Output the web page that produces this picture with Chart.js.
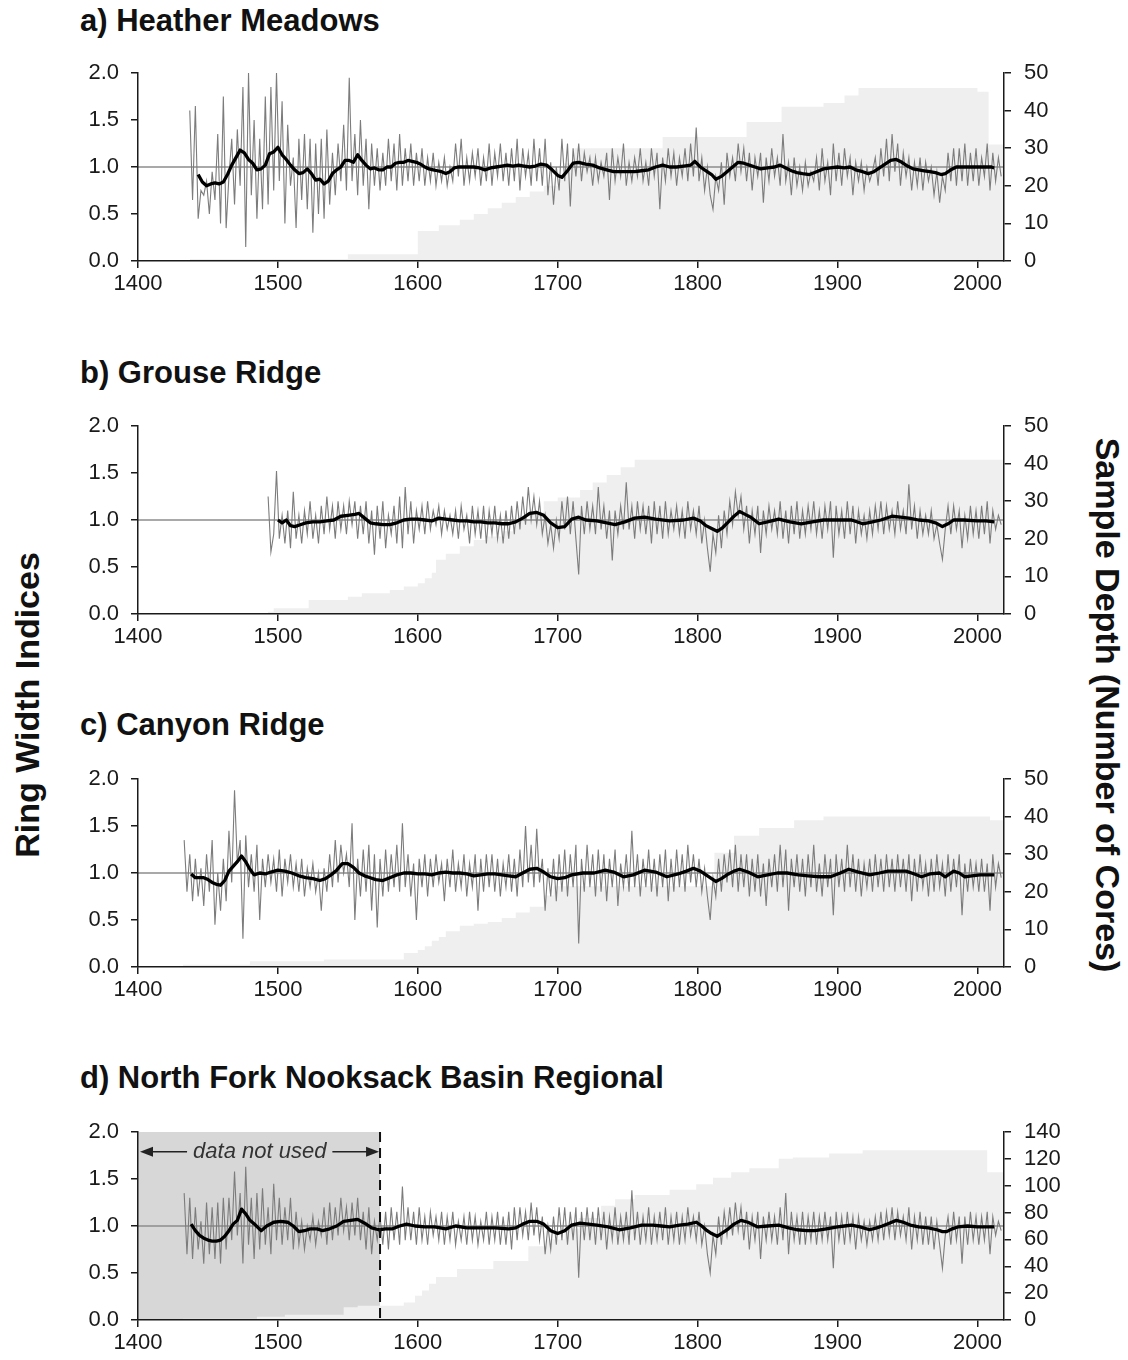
<!DOCTYPE html>
<html><head><meta charset="utf-8">
<script src="https://cdn.jsdelivr.net/npm/chart.js@4.4.1/dist/chart.umd.min.js"></script>
<style>
body{margin:0;background:#fff;width:1128px;height:1360px;position:relative;overflow:hidden;font-family:"Liberation Sans",Arial,sans-serif;}
.title{position:absolute;left:80px;font-weight:bold;font-size:31px;color:#111;line-height:31px;white-space:nowrap;}
canvas{position:absolute;left:0;}
.side{position:absolute;font-weight:bold;font-size:34px;color:#111;white-space:nowrap;line-height:34px;}
</style></head><body>
<div class="title" style="top:5px">a) Heather Meadows</div>
<div class="title" style="top:357px">b) Grouse Ridge</div>
<div class="title" style="top:709px">c) Canyon Ridge</div>
<div class="title" style="top:1062px">d) North Fork Nooksack Basin Regional</div>
<div class="side" style="left:27px;top:705px;transform:translate(-50%,-50%) rotate(-90deg)">Ring Width Indices</div>
<div class="side" style="left:1108px;top:705px;transform:translate(-50%,-50%) rotate(90deg)">Sample Depth (Number of Cores)</div>
<canvas id="ca" width="1128" height="261" style="top:45px"></canvas>
<canvas id="cb" width="1128" height="261" style="top:398px"></canvas>
<canvas id="cc" width="1128" height="261" style="top:751px"></canvas>
<canvas id="cd" width="1128" height="261" style="top:1104px"></canvas>
<script>
// ---- tick labels ----
const xTicks = [1400,1500,1600,1700,1800,1900,2000];
const leftTicks = [0,0.5,1,1.5,2];
const rightTicksSite = [0,10,20,30,40,50];
const rightTicksRegional = [0,20,40,60,80,100,120,140];
const xRange = [1400,2019];
const notUsedRange = [1400,1573];
const notUsedLabel = 'data not used';

// ---- a) Heather Meadows ----
const annualStartA = 1437, annualStepA = 2;
const annualA = [
1.6,0.65,1.65,0.45,0.75, 0.7,0.85,0.5,0.95,0.65, 1.35,0.4,1.75,0.35,0.9, 1.3,0.6,1.4,0.8,1.85,
0.15,2.0,0.7,1.5,0.45, 1.3,0.55,1.75,0.6,1.85, 0.75,2.0,0.85,1.7,0.4, 1.45,0.8,1.1,0.35,1.3,
0.65,1.35,0.55,1.3,0.3, 1.25,0.5,1.3,0.45,1.4, 0.6,1.15,0.7,1.25,0.85, 1.45,0.75,1.95,0.85,1.35,
0.7,1.5,0.8,1.3,0.55, 1.25,0.8,1.2,0.75,1.15, 0.8,1.3,0.85,1.25,0.75, 1.35,0.8,1.2,0.85,1.25,
0.8,1.15,0.85,1.2,0.8, 1.1,0.85,1.15,0.8,1.05, 0.85,1.1,0.8,1.0,0.85, 1.25,0.9,1.3,0.8,1.1,
0.85,1.15,0.9,1.2,0.8, 1.1,0.85,1.25,0.8,1.15, 0.9,1.25,0.85,1.15,0.8, 1.2,0.85,1.3,0.75,1.2,
0.9,1.15,0.8,1.3,0.85, 1.2,0.8,1.3,0.7,1.05, 0.6,1.0,0.75,1.3,0.85, 1.25,0.58,1.2,0.9,1.25,
0.85,1.15,0.95,1.1,0.8, 1.1,0.85,1.05,0.9,1.15, 0.65,1.2,0.85,1.1,0.9, 1.25,0.8,1.05,0.85,1.1,
0.9,1.2,0.85,1.05,0.8, 1.2,0.9,1.15,0.55,1.1, 0.85,1.2,0.9,1.15,0.8, 1.1,0.9,1.2,0.85,1.25,
0.9,1.42,0.85,1.1,0.75, 1.0,0.7,0.55,0.9,0.75, 1.05,0.6,1.15,0.9,1.1, 0.85,1.25,0.95,1.2,0.85,
1.15,0.75,1.1,0.9,1.15, 0.62,1.1,0.85,1.2,0.9, 1.1,0.8,1.35,0.85,1.05, 0.7,1.1,0.8,1.0,0.75,
1.05,0.8,0.95,0.85,1.1, 0.75,1.2,0.85,1.05,0.7, 1.25,0.85,1.15,0.8,1.2, 0.9,1.1,0.7,1.05,0.85,
1.05,0.75,1.0,0.85,0.95, 1.1,0.8,1.2,0.9,1.3, 0.85,1.35,0.95,1.25,0.8, 1.15,0.9,1.1,0.75,1.05,
0.8,1.1,0.75,1.05,0.85, 1.0,0.7,0.95,0.62,0.9, 0.75,1.15,0.85,1.2,0.8, 1.2,0.85,1.25,0.8,1.15,
0.85,1.2,0.8,1.1,0.9, 1.25,0.75,1.15,0.85,1.1, 0.9];
const smoothYearsA = [
1443,1446,1449,1452,1455,1458,1461,1464,1467,1470,1473,1476,1479,1482,1485,1488,1491,1494,1497,1500,
1503,1506,1509,1512,1515,1518,1521,1524,1527,1530,1533,1536,1539,1542,1545,1548,1551,1554,1557,1560,
1563,1566,1569,1572,1575,1578,1581,1584,1587,1590,1593,1596,1599,1602,1605,1608,1611,1614,1617,1620,
1623,1626,1629,1632,1636,1640,1644,1648,1652,1656,1660,1664,1668,1672,1676,1680,1684,1688,1692,1696,
1700,1703,1707,1711,1715,1720,1725,1730,1735,1740,1745,1750,1755,1760,1765,1770,1775,1780,1785,1790,
1795,1798,1802,1806,1810,1813,1817,1821,1825,1829,1833,1837,1841,1845,1850,1855,1859,1863,1867,1871,
1875,1880,1885,1890,1895,1900,1905,1909,1913,1918,1922,1926,1930,1934,1938,1942,1946,1950,1954,1958,
1962,1966,1970,1974,1977,1981,1985,1990,1995,2000,2005,2010,2012];
const smoothA = [
0.92,0.84,0.80,0.82,0.83,0.82,0.84,0.92,1.02,1.10,1.18,1.15,1.08,1.04,0.97,0.98,1.02,1.14,1.16,1.21,
1.13,1.08,1.02,0.97,0.93,0.94,0.98,0.93,0.86,0.87,0.82,0.85,0.93,0.97,1.00,1.07,1.07,1.05,1.13,1.07,
1.02,0.98,0.99,0.97,0.97,1.00,1.00,1.04,1.05,1.05,1.07,1.06,1.05,1.03,1.00,0.98,0.97,0.96,0.95,0.93,
0.95,0.99,1.00,1.00,1.00,1.00,0.99,0.97,0.99,1.00,1.01,1.02,1.01,1.02,1.01,1.00,1.01,1.03,1.02,0.97,
0.91,0.89,0.96,1.04,1.05,1.03,1.02,0.99,0.97,0.95,0.95,0.95,0.95,0.96,0.97,1.00,1.02,1.00,1.00,1.01,
1.02,1.06,1.00,0.96,0.92,0.87,0.90,0.95,1.00,1.05,1.04,1.02,1.00,0.98,0.99,1.00,1.02,0.99,0.96,0.94,
0.93,0.92,0.95,0.98,0.99,1.00,0.99,1.00,0.97,0.95,0.93,0.95,0.99,1.03,1.07,1.08,1.05,1.01,0.98,0.97,
0.96,0.95,0.94,0.92,0.93,0.97,1.00,1.00,1.00,1.00,1.00,1.00,0.99];
const depthYearsA = [1437,1550,1600,1615,1630,1640,1650,1660,1670,1680,1690,1700,1705,1712,1775,1835,1860,1890,1905,1915,2000,2008,2019];
const depthA = [0.5,1.8,8,9.5,11,12.5,14,15.5,17,18.5,20,22,26,30,33,37,41,42,44,46,45,31,31];

// ---- b) Grouse Ridge ----
const annualStartB = 1493, annualStepB = 2;
const annualB = [
1.25,0.66,0.85,1.52,0.8, 1.05,0.75,1.1,0.7,1.3, 0.8,1.05,0.75,1.1,0.85, 1.2,0.8,1.05,0.75,1.15,
0.85,1.25,0.9,1.15,0.8, 1.2,0.9,1.15,0.85,1.2, 0.95,1.2,0.8,1.15,0.85, 1.2,0.75,1.1,0.63,1.15,
0.8,1.2,0.7,1.05,0.85, 1.15,0.75,1.25,0.7,1.35, 0.85,1.2,0.75,1.1,0.9, 1.15,0.85,1.2,0.9,1.1,
0.95,1.15,0.85,1.1,0.9, 1.05,0.85,1.1,0.8,1.15, 0.9,1.05,0.75,1.15,0.85, 1.1,0.8,1.15,0.75,1.1,
0.85,1.15,0.8,1.05,0.75, 1.1,0.8,1.15,0.85,1.2, 0.9,1.25,0.95,1.35,1.0, 1.25,0.95,1.2,0.85,1.05,
0.75,0.95,0.7,1.0,0.8, 1.2,0.9,1.25,0.85,1.2, 0.8,0.42,1.15,0.85,1.2, 0.9,1.15,0.85,1.35,0.9,
1.15,0.8,1.1,0.57,1.1, 0.85,1.15,0.9,1.4,0.9, 1.15,0.8,1.2,0.9,1.15, 0.85,1.15,0.75,1.2,0.85,
1.15,0.8,1.2,0.85,1.1, 0.9,1.15,0.85,1.1,0.8, 1.2,0.9,1.1,0.85,1.15, 0.75,1.0,0.7,0.45,0.85,
0.65,1.05,0.7,1.1,0.85, 1.2,0.95,1.3,1.05,1.25, 0.9,1.15,0.75,1.1,0.85, 1.15,0.65,1.1,0.85,1.15,
0.9,1.1,0.85,1.2,0.8, 1.1,0.75,1.15,0.85,1.2, 0.8,1.1,0.85,1.15,0.9, 1.2,0.85,1.1,0.8,1.15,
0.9,1.2,0.6,1.15,0.85, 1.1,0.8,1.2,0.85,1.15, 0.75,1.1,0.85,1.05,0.8, 1.1,0.85,1.15,0.9,1.2,
0.85,1.15,0.9,1.1,0.85, 1.2,0.9,1.1,0.85,1.38, 0.9,1.15,0.8,1.1,0.85, 1.05,0.85,1.1,0.8,0.95,
0.75,0.58,0.9,1.15,0.85, 1.15,0.9,1.1,0.7,1.05, 0.8,1.15,0.85,1.1,0.8, 1.15,0.85,1.2,0.75,1.1,
0.9,1.05,0.95];
const smoothYearsB = [
1500,1503,1506,1509,1512,1516,1520,1525,1530,1535,1540,1545,1550,1555,1558,1562,1566,1570,1575,1580,
1585,1590,1595,1600,1605,1610,1615,1620,1625,1630,1635,1640,1645,1650,1655,1660,1665,1670,1675,1680,
1685,1690,1695,1700,1705,1710,1715,1720,1728,1735,1741,1748,1755,1762,1770,1780,1790,1797,1802,1806,
1810,1814,1818,1822,1826,1830,1834,1838,1844,1850,1858,1866,1874,1882,1890,1900,1910,1918,1925,1931,
1939,1945,1951,1958,1965,1970,1975,1979,1983,1990,2000,2006,2012];
const smoothB = [
1.00,0.97,1.00,0.94,0.93,0.95,0.97,0.98,0.98,0.99,1.00,1.04,1.05,1.06,1.07,1.02,0.97,0.96,0.95,0.95,
0.97,1.00,1.01,1.01,1.00,0.99,1.02,1.01,1.00,0.99,0.99,0.98,0.98,0.97,0.97,0.96,0.96,0.98,1.02,1.07,
1.08,1.05,0.97,0.92,0.93,1.01,1.03,1.00,0.99,0.97,0.95,0.98,1.02,1.03,1.01,0.99,1.00,1.02,0.99,0.94,
0.91,0.88,0.92,0.98,1.04,1.09,1.06,1.03,0.96,0.98,1.01,0.98,0.96,0.98,1.00,1.00,1.00,0.96,0.98,1.00,
1.04,1.03,1.02,1.00,0.99,0.97,0.93,0.96,1.00,1.00,0.99,0.99,0.98];
const depthYearsB = [1493,1497,1522,1550,1560,1580,1590,1600,1605,1610,1613,1620,1630,1640,1650,1660,1670,1680,1690,1700,1716,1725,1735,1745,1755,2019];
const depthB = [0.6,1.5,3.7,4.6,5.5,6.4,7.3,8.2,9.5,11,14.4,16,18,19.7,20.6,22,25,27,30,31,33,35,37,39,41,41];

// ---- c) Canyon Ridge ----
const annualStartC = 1433, annualStepC = 2;
const annualC = [
1.35,0.8,1.2,0.7,1.15, 0.75,1.05,0.65,1.2,0.8, 1.35,0.45,1.0,0.6,1.15, 0.7,1.45,0.9,1.88,1.1,
1.35,0.3,1.4,0.85,1.2, 0.8,1.3,0.5,1.15,0.85, 1.2,0.9,1.15,0.8,1.25, 0.75,1.15,0.9,1.2,0.85,
1.1,0.8,1.15,0.75,1.05, 0.85,1.1,0.8,1.0,0.6, 1.05,0.8,1.2,0.85,1.35, 0.9,1.3,1.0,1.2,0.85,
1.53,0.5,1.15,0.75,1.25, 0.8,1.3,0.6,1.2,0.42, 1.15,0.75,1.25,0.8,1.2, 0.85,1.3,0.8,1.53,0.85,
1.2,0.75,1.1,0.5,1.15, 0.85,1.2,0.75,1.15,0.85, 1.2,0.9,1.1,0.7,1.15, 0.85,1.25,0.8,1.1,0.85,
1.2,0.75,1.1,0.85,1.2, 0.6,1.15,0.8,1.2,0.85, 1.2,0.8,1.15,0.75,1.1, 0.85,1.2,0.8,1.15,0.75,
1.25,0.85,1.5,0.9,1.3, 0.85,1.47,0.9,1.15,0.6, 1.05,0.75,1.15,0.7,1.2, 0.8,1.25,0.75,1.2,0.85,
1.3,0.25,1.15,0.8,1.3, 0.85,1.2,0.75,1.25,0.8, 1.2,0.7,1.15,0.85,1.25, 0.65,1.1,0.85,1.2,0.8,
1.45,0.85,1.2,0.75,1.15, 0.85,1.25,0.8,1.15,0.75, 1.2,0.85,1.25,0.7,1.15, 0.8,1.25,0.85,1.2,0.8,
1.3,0.9,1.2,0.85,1.15, 0.8,1.05,0.75,0.5,0.95, 0.75,1.15,0.8,1.2,0.9, 1.25,0.85,1.3,0.8,1.2,
0.85,1.2,0.75,1.15,0.8, 1.2,0.75,1.1,0.65,1.15, 0.85,1.2,0.8,1.3,0.85, 1.25,0.6,1.15,0.85,1.2,
0.8,1.15,0.75,1.2,0.85, 1.3,0.8,1.1,0.75,1.2, 0.85,1.15,0.55,1.2,0.85, 1.15,0.8,1.3,0.85,1.2,
0.8,1.15,0.75,1.1,0.85, 1.15,0.8,1.2,0.85,1.15, 0.8,1.2,0.85,1.15,0.8, 1.2,0.85,1.15,0.8,1.2,
0.7,1.15,0.8,1.2,0.85, 1.1,0.75,1.15,0.8,1.2, 0.85,1.1,0.75,1.2,0.8, 1.15,0.85,1.2,0.55,1.1,
0.8,1.15,0.85,1.1,0.8, 1.15,0.8,1.1,0.6,1.2, 0.85,1.1,0.95];
const smoothYearsC = [
1438,1441,1444,1447,1450,1453,1456,1459,1462,1465,1468,1471,1474,1477,1480,1483,1487,1491,1495,1500,
1505,1510,1515,1520,1525,1530,1534,1538,1542,1546,1550,1554,1558,1562,1566,1570,1575,1580,1585,1590,
1595,1600,1605,1610,1615,1620,1625,1630,1635,1640,1645,1650,1655,1660,1665,1670,1675,1680,1685,1690,
1695,1700,1705,1710,1718,1726,1734,1740,1747,1754,1762,1770,1778,1786,1792,1797,1802,1806,1810,1813,
1817,1822,1826,1830,1836,1843,1850,1857,1864,1872,1879,1887,1895,1902,1908,1915,1923,1930,1936,1943,
1949,1955,1960,1966,1973,1977,1983,1987,1991,1996,2002,2007,2012];
const smoothC = [
0.99,0.95,0.95,0.95,0.93,0.90,0.88,0.87,0.92,1.02,1.07,1.12,1.18,1.12,1.04,0.98,1.00,0.99,1.01,1.03,
1.02,1.00,0.97,0.95,0.94,0.92,0.94,0.98,1.03,1.10,1.10,1.06,1.00,0.97,0.95,0.93,0.92,0.95,0.98,1.00,
1.00,0.99,0.99,0.98,1.00,1.01,1.00,1.00,0.99,0.97,0.98,0.99,0.99,0.98,0.97,0.96,1.00,1.04,1.05,1.01,
0.96,0.94,0.95,0.98,1.00,1.00,1.03,1.01,0.96,0.98,1.03,1.01,0.96,0.99,1.02,1.05,1.02,0.98,0.94,0.91,
0.94,0.99,1.02,1.04,1.01,0.96,0.98,1.00,1.00,0.98,0.97,0.96,0.96,1.00,1.04,1.01,0.98,1.00,1.02,1.02,
1.02,0.99,0.96,0.99,1.00,0.96,1.02,1.00,0.96,0.97,0.98,0.98,0.98];
const depthYearsC = [1432,1480,1533,1590,1600,1605,1610,1615,1620,1630,1640,1650,1660,1670,1680,1690,1697,1812,1826,1844,1869,1890,2009,2019];
const depthC = [0.6,1.5,2.0,3.7,4.5,5.5,7,8,9.5,11,11.5,12,13,14.5,16,19,21.5,30.4,34.9,37,39,40,39,39];

// ---- d) North Fork Nooksack Basin Regional ----
const annualStartD = 1433, annualStepD = 2;
const annualD = [
1.35,0.7,1.3,0.65,1.2, 0.75,1.05,0.6,1.25,0.7, 1.2,0.65,1.25,0.6,1.3, 0.75,1.3,0.85,1.58,0.9,
1.35,0.6,1.63,0.8,1.3, 0.65,1.35,0.75,1.4,0.8, 1.2,0.7,1.45,0.85,1.3, 0.8,1.2,0.85,1.3,0.75,
1.15,0.8,1.05,0.75,1.0, 0.85,1.1,0.8,1.05,0.9, 1.2,0.8,1.25,0.85,1.2, 0.9,1.3,0.95,1.2,0.85,
1.25,0.9,1.3,0.85,1.15, 0.75,1.2,0.7,1.05,0.85, 1.1,0.8,1.15,0.75,1.2, 0.85,1.15,0.8,1.42,0.85,
1.2,0.85,1.15,0.8,1.2, 0.85,1.1,0.8,1.15,0.9, 1.1,0.85,1.15,0.8,1.1, 0.85,1.15,0.8,1.05,0.85,
1.1,0.8,1.15,0.85,1.1, 0.8,1.05,0.85,1.15,0.8, 1.1,0.85,1.15,0.8,1.1, 0.8,1.15,0.75,1.2,0.85,
1.2,0.9,1.15,0.85,1.25, 0.9,1.2,0.85,1.1,0.7, 1.0,0.75,1.1,0.8,1.2, 0.85,1.2,0.8,1.15,0.85,
1.2,0.45,1.15,0.85,1.2, 0.85,1.15,0.8,1.2,0.85, 1.15,0.75,1.1,0.85,1.2, 0.8,1.1,0.85,1.15,0.8,
1.38,0.85,1.15,0.8,1.1, 0.85,1.2,0.8,1.1,0.85, 1.15,0.85,1.2,0.8,1.1, 0.85,1.15,0.8,1.1,0.85,
1.2,0.9,1.1,0.85,1.15, 0.8,1.0,0.7,0.5,0.9, 0.7,1.1,0.8,1.15,0.9, 1.2,0.9,1.25,0.95,1.2,
0.85,1.15,0.75,1.1,0.85, 1.15,0.65,1.1,0.85,1.15, 0.85,1.1,0.8,1.2,0.85, 1.35,0.7,1.15,0.85,1.1,
0.8,1.15,0.8,1.1,0.85, 1.15,0.8,1.1,0.85,1.15, 0.85,1.1,0.55,1.15,0.85, 1.1,0.8,1.15,0.85,1.1,
0.75,1.1,0.85,1.05,0.8, 1.05,0.85,1.1,0.85,1.15, 0.85,1.15,0.9,1.2,0.85, 1.15,0.9,1.1,0.85,1.2,
0.75,1.1,0.85,1.15,0.8, 1.1,0.8,1.1,0.75,1.05, 0.8,0.55,0.9,1.1,0.8, 1.15,0.85,1.1,0.6,1.1,
0.8,1.15,0.85,1.1,0.8, 1.1,0.85,1.15,0.7,1.1, 0.9,1.05,0.95];
const smoothYearsD = [
1438,1441,1444,1447,1450,1453,1456,1459,1462,1465,1468,1471,1474,1477,1480,1484,1488,1492,1497,1502,
1507,1511,1515,1519,1523,1528,1532,1537,1542,1547,1552,1557,1562,1567,1572,1577,1582,1587,1592,1598,
1605,1612,1620,1627,1635,1645,1655,1665,1670,1675,1680,1685,1690,1695,1700,1705,1710,1716,1722,1728,
1736,1744,1752,1760,1768,1774,1780,1787,1793,1799,1803,1806,1810,1814,1818,1822,1826,1831,1836,1843,
1850,1858,1865,1871,1878,1884,1892,1900,1905,1910,1916,1923,1928,1932,1937,1942,1947,1952,1958,1965,
1971,1975,1978,1982,1986,1993,2000,2006,2012];
const smoothD = [
1.02,0.95,0.90,0.87,0.85,0.84,0.84,0.85,0.89,0.95,1.02,1.06,1.18,1.13,1.06,1.01,0.95,1.00,1.04,1.05,
1.04,1.00,0.94,0.95,0.97,0.97,0.95,0.97,1.00,1.05,1.06,1.07,1.03,0.98,0.96,0.97,0.97,1.00,1.02,1.00,
0.99,0.99,0.97,1.00,0.98,0.98,0.98,0.97,0.98,1.02,1.05,1.05,1.02,0.95,0.92,0.95,1.01,1.03,1.02,1.01,
0.99,0.96,0.98,1.01,1.01,1.00,0.99,1.01,1.02,1.04,1.00,0.96,0.92,0.89,0.93,0.97,1.02,1.06,1.04,0.99,
1.00,1.01,0.98,0.96,0.95,0.95,0.97,0.99,1.00,1.01,0.99,0.96,0.98,1.00,1.03,1.06,1.04,1.01,0.99,0.98,
0.96,0.94,0.94,0.97,0.99,1.00,0.99,0.99,0.99];
const depthYearsD = [1432,1485,1505,1547,1557,1590,1598,1603,1608,1613,1628,1654,1679,1692,1705,1715,1731,1741,1755,1780,1799,1811,1824,1837,1858,1868,1894,1918,2007,2019];
const depthD = [1,2.5,4,9.5,10.7,13,18,22,27,32,38,44,55,60,68,76,85,90,93,97,101,106,110,113,120,121,124,126.5,110,110];

// ---- drawing ----
const FONT = '"Liberation Sans", Arial, sans-serif';
Chart.defaults.font.family = FONT;
const INK = '#1a1a1a';

function seriesFromStart(start, step, vals){ return vals.map((v,i)=>({x:start+i*step, y:v})); }
function pairs(xs, ys){ return xs.map((x,i)=>({x:x, y:ys[i]})); }

const notUsedPlugin = {
  id:'notUsed',
  beforeDatasetsDraw(chart){
    if(!chart.options.plugins.notUsed.show) return;
    const {ctx, chartArea:a, scales:{x}} = chart;
    const x0 = x.getPixelForValue(notUsedRange[0]), x1 = x.getPixelForValue(notUsedRange[1]);
    ctx.save(); ctx.fillStyle='#d7d7d7'; ctx.fillRect(x0, a.top, x1-x0, a.bottom-a.top); ctx.restore();
  },
  afterDatasetsDraw(chart){
    if(!chart.options.plugins.notUsed.show) return;
    const {ctx, chartArea:a, scales:{x,y}} = chart;
    const x0 = x.getPixelForValue(notUsedRange[0]) + 2, x1 = x.getPixelForValue(notUsedRange[1]);
    ctx.save();
    ctx.strokeStyle = '#111'; ctx.lineWidth = 2; ctx.setLineDash([10,6]);
    ctx.beginPath(); ctx.moveTo(x1, a.top); ctx.lineTo(x1, a.bottom); ctx.stroke();
    ctx.setLineDash([]);
    const yy = y.getPixelForValue(1.79);
    const xc = x.getPixelForValue(1487);
    ctx.font = 'italic 22px ' + FONT;
    ctx.fillStyle = '#333'; ctx.textAlign='center'; ctx.textBaseline='middle';
    ctx.fillText(notUsedLabel, xc, yy);
    const w = ctx.measureText(notUsedLabel).width;
    ctx.strokeStyle='#222'; ctx.lineWidth=1.5;
    ctx.beginPath(); ctx.moveTo(xc - w/2 - 6, yy); ctx.lineTo(x0 + 10, yy);
    ctx.moveTo(xc + w/2 + 6, yy); ctx.lineTo(x1 - 10, yy); ctx.stroke();
    ctx.fillStyle='#222';
    ctx.beginPath(); ctx.moveTo(x0, yy); ctx.lineTo(x0+13, yy-5); ctx.lineTo(x0+13, yy+5); ctx.closePath(); ctx.fill();
    ctx.beginPath(); ctx.moveTo(x1-1, yy); ctx.lineTo(x1-14, yy-5); ctx.lineTo(x1-14, yy+5); ctx.closePath(); ctx.fill();
    ctx.restore();
  }
};

function axisCommon(pad){
  return {
    z:1,
    grid:{drawOnChartArea:false, drawTicks:true, tickLength:7, color:INK, lineWidth:1.5, z:1},
    border:{display:true, color:INK, width:1.5, z:1},
    ticks:{color:INK, font:{size:22, family:FONT}, padding:pad, autoSkip:false, maxRotation:0}
  };
}

function makePanel(id, cfg){
  const xs = axisCommon(3), yl = axisCommon(12), yr = axisCommon(13);
  xs.ticks.callback = v => String(v);
  yl.ticks.callback = v => Number(v).toFixed(1);
  yr.ticks.callback = v => String(v);
  new Chart(document.getElementById(id), {
    type:'line',
    data:{datasets:[
      {data:pairs(cfg.smoothYears, cfg.smooth), borderColor:'#000', borderWidth:3.3, pointRadius:0, tension:0, yAxisID:'y', order:0, borderJoinStyle:'round'},
      {data:seriesFromStart(cfg.start, cfg.step, cfg.annual), borderColor:'#7c7c7c', borderWidth:1.1, pointRadius:0, tension:0, yAxisID:'y', order:1},
      {data:[{x:xRange[0],y:1},{x:xRange[1],y:1}], borderColor:'#8c8c8c', borderWidth:1.5, pointRadius:0, yAxisID:'y', order:2},
      {data:pairs(cfg.depthYears, cfg.depth), stepped:'before', fill:'origin', backgroundColor:'#efefef', borderColor:'rgba(0,0,0,0)', borderWidth:0, pointRadius:0, yAxisID:'y2', order:3}
    ]},
    options:{
      responsive:false, animation:false, devicePixelRatio:1, events:[],
      layout:{padding:{top:28, left:0, right:0, bottom:0}},
      plugins:{legend:{display:false}, tooltip:{enabled:false}, notUsed:{show:!!cfg.notUsed}},
      scales:{
        x:Object.assign(xs, {type:'linear', min:xRange[0], max:xRange[1],
          afterBuildTicks:s=>{ s.ticks = xTicks.map(v=>({value:v})); },
          afterFit:s=>{ s.height = 45; }}),
        y:Object.assign(yl, {type:'linear', position:'left', min:0, max:2,
          afterBuildTicks:s=>{ s.ticks = leftTicks.map(v=>({value:v})); },
          afterFit:s=>{ s.width = 138; }}),
        y2:Object.assign(yr, {type:'linear', position:'right', min:0, max:cfg.rightTicks[cfg.rightTicks.length-1],
          afterBuildTicks:s=>{ s.ticks = cfg.rightTicks.map(v=>({value:v})); },
          afterFit:s=>{ s.width = 124; }})
      }
    },
    plugins:[notUsedPlugin]
  });
}

makePanel('ca', {start:annualStartA, step:annualStepA, annual:annualA, smoothYears:smoothYearsA, smooth:smoothA, depthYears:depthYearsA, depth:depthA, rightTicks:rightTicksSite});
makePanel('cb', {start:annualStartB, step:annualStepB, annual:annualB, smoothYears:smoothYearsB, smooth:smoothB, depthYears:depthYearsB, depth:depthB, rightTicks:rightTicksSite});
makePanel('cc', {start:annualStartC, step:annualStepC, annual:annualC, smoothYears:smoothYearsC, smooth:smoothC, depthYears:depthYearsC, depth:depthC, rightTicks:rightTicksSite});
makePanel('cd', {start:annualStartD, step:annualStepD, annual:annualD, smoothYears:smoothYearsD, smooth:smoothD, depthYears:depthYearsD, depth:depthD, rightTicks:rightTicksRegional, notUsed:true});
</script>
</body></html>
